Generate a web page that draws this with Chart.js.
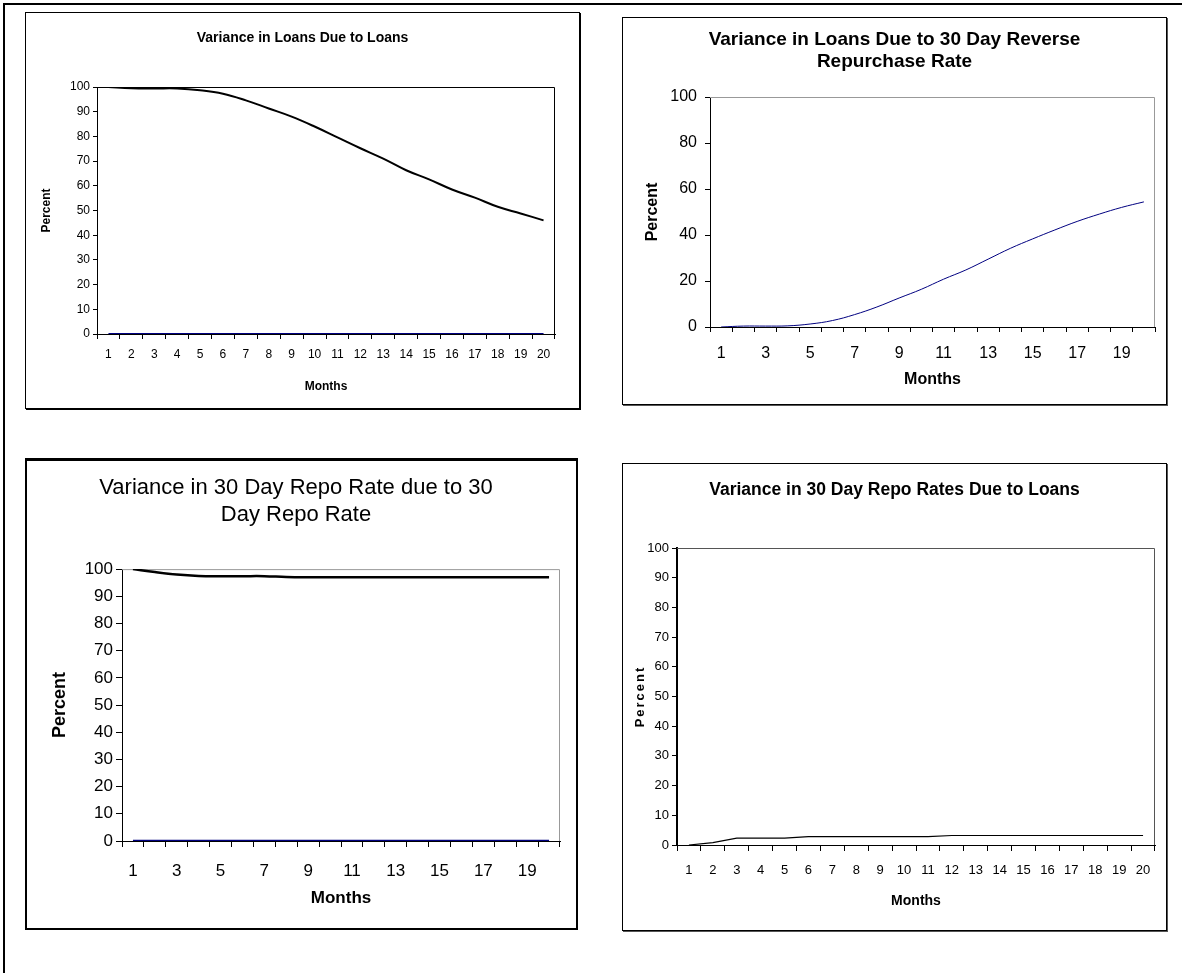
<!DOCTYPE html>
<html>
<head>
<meta charset="utf-8">
<script src="https://cdn.jsdelivr.net/npm/chart.js@4.4.0/dist/chart.umd.min.js"></script>
<style>
  body { margin: 0; background: #fff; width: 1182px; height: 973px; position: relative; overflow: hidden; }
  .frame-top { position: absolute; left: 3px; top: 3px; width: 1179px; height: 2px; background: #000; }
  .frame-left { position: absolute; left: 3px; top: 3px; width: 2px; height: 970px; background: #000; }
  .panel { position: absolute; background: #fff; border: 1px solid #000; }
  .panel canvas { position: absolute; left: 0; top: 0; }
  #p1 { left: 25px; top: 12px; width: 553px; height: 395px; box-shadow: 1px 1px 0 #000; }
  #p2 { left: 622px; top: 17px; width: 543px; height: 386px; box-shadow: 1px 1px 0 #555; }
  #p3 { left: 25px; top: 458px; width: 549px; height: 467px; border-width: 2px; border-top-width: 3px; }
  #p4 { left: 622px; top: 463px; width: 543px; height: 466px; box-shadow: 1px 1px 0 #555; }
</style>
</head>
<body>
<div class="frame-top"></div>
<div class="frame-left"></div>
<div class="panel" id="p1"><canvas id="c1" width="553" height="395"></canvas></div>
<div class="panel" id="p2"><canvas id="c2" width="543" height="386"></canvas></div>
<div class="panel" id="p3"><canvas id="c3" width="549" height="467"></canvas></div>
<div class="panel" id="p4"><canvas id="c4" width="543" height="466"></canvas></div>

<script>
// data
const months = ['1','2','3','4','5','6','7','8','9','10','11','12','13','14','15','16','17','18','19','20'];
const oddMonths = ['1','3','5','7','9','11','13','15','17','19'];

const loansDueLoans = [100, 99.5, 99.4, 99.4, 98.7, 97.3, 94.6, 91.3, 88.0, 84.0, 79.6, 75.2, 71.0, 66.3, 62.6, 58.5, 55.2, 51.5, 48.8, 46.0];
const loansDueLoansOther = [0, 0, 0, 0, 0, 0, 0, 0, 0, 0, 0, 0, 0, 0, 0, 0, 0, 0, 0, 0];

const loansDueReverseRepo = [0, 0.4, 0.4, 0.5, 1.3, 2.8, 5.4, 8.7, 12.6, 16.4, 20.8, 24.8, 29.5, 34.2, 38.3, 42.2, 45.9, 49.1, 52.0, 54.4];

const repoDueRepo = [100, 98.9, 98.0, 97.5, 97.4, 97.4, 97.4, 97.1, 97.0, 97.0, 97.0, 97.0, 97.0, 97.0, 97.0, 97.0, 97.0, 97.0, 97.0, 97.0];
const repoDueRepoOther = [0, 0, 0, 0, 0, 0, 0, 0, 0, 0, 0, 0, 0, 0, 0, 0, 0, 0, 0, 0];

const repoDueLoans = [0, 0.8, 2.3, 2.3, 2.3, 2.8, 2.8, 2.8, 2.8, 2.8, 2.8, 3.2, 3.2, 3.2, 3.2, 3.2, 3.2, 3.2, 3.2, 3.2];

const ARIAL = "'Liberation Sans', Arial, sans-serif";

// top and right edge of the plot area
const plotFrame = {
  id: 'plotFrame',
  beforeDatasetsDraw(chart, args, opts) {
    const { ctx, chartArea: a } = chart;
    ctx.save();
    ctx.strokeStyle = opts.color;
    ctx.lineWidth = 1;
    ctx.beginPath();
    ctx.moveTo(a.left, a.top + 0.5);
    ctx.lineTo(a.right - 0.5, a.top + 0.5);
    ctx.lineTo(a.right - 0.5, a.bottom);
    ctx.stroke();
    ctx.restore();
  }
};

// letter-spaced axis title (only used on the last panel)
const spacedTitle = {
  id: 'spacedTitle',
  afterDraw(chart, args, opts) {
    if (!opts.text) return;
    const { ctx, chartArea: a } = chart;
    ctx.save();
    ctx.translate(opts.x, (a.top + a.bottom) / 2);
    ctx.rotate(-Math.PI / 2);
    ctx.font = opts.font;
    ctx.letterSpacing = opts.spacing;
    ctx.fillStyle = '#000';
    ctx.textAlign = 'center';
    ctx.textBaseline = 'middle';
    ctx.fillText(opts.text, 0, 0);
    ctx.restore();
  }
};

function makePanel(id, s) {
  new Chart(document.getElementById(id), {
    type: 'line',
    data: { labels: months, datasets: s.datasets },
    plugins: [plotFrame, spacedTitle],
    options: {
      responsive: false,
      animation: false,
      layout: { padding: { left: 0, right: s.padRight, top: 0, bottom: 0 } },
      elements: { point: { radius: 0 } },
      plugins: {
        legend: { display: false },
        tooltip: { enabled: false },
        plotFrame: { color: s.frameColor },
        spacedTitle: s.spaced || {},
        title: {
          display: true,
          text: s.title,
          color: '#000',
          font: { family: ARIAL, size: s.titleSize, weight: s.titleWeight, lineHeight: s.titleLH },
          padding: { top: s.titleTop, bottom: s.titleBottom }
        }
      },
      scales: {
        x: {
          type: 'category',
          offset: true,
          afterFit(scale) { scale.height = s.xHeight; },
          grid: { offset: true, drawOnChartArea: false, drawTicks: true, tickLength: s.xTick, color: '#000' },
          border: { display: true, color: '#000', width: 1 },
          ticks: {
            autoSkip: false, maxRotation: 0, color: '#000', padding: s.xPad,
            font: { family: ARIAL, size: s.xSize },
            callback(v, i) { const l = months[i]; return s.shown.includes(l) ? l : ''; }
          },
          title: {
            display: true, text: 'Months', color: '#000',
            font: { family: ARIAL, size: s.xTitleSize, weight: 'bold' },
            padding: { top: 0, bottom: s.xTitleBottom }
          }
        },
        y: {
          min: 0, max: 100,
          afterFit(scale) { scale.width = s.yWidth; },
          grid: { drawOnChartArea: false, drawTicks: true, tickLength: s.yTick, color: '#000' },
          border: { display: true, color: '#000', width: s.yBorder || 1 },
          ticks: { stepSize: s.yStep, color: '#000', padding: s.yPad, font: { family: ARIAL, size: s.ySize } },
          title: {
            display: !s.spaced, text: 'Percent', color: '#000',
            font: { family: ARIAL, size: s.yTitleSize, weight: 'bold' },
            padding: { top: s.yTitleTop, bottom: 0 }
          }
        },
        // empty right-hand strip, so the title stays centred on the whole panel
        gap: {
          type: 'linear', position: 'right', display: true,
          afterFit(scale) { scale.width = s.gapRight; },
          grid: { display: false }, border: { display: false }, ticks: { display: false }
        }
      }
    }
  });
}

makePanel('c1', {
  title: 'Variance in Loans Due to Loans', titleSize: 14, titleWeight: 'bold', titleLH: 1.2,
  titleTop: 16.6, titleBottom: 40.6, padRight: 0, gapRight: 24, frameColor: '#000',
  xSize: 12, ySize: 12, xTitleSize: 12, yTitleSize: 12,
  xHeight: 74, xTick: 5, xPad: 8, xTitleBottom: 13.8,
  yWidth: 71, yTick: 4, yPad: 3, yStep: 10, yTitleTop: 13.8,
  shown: months,
  datasets: [
    { data: loansDueLoansOther, borderColor: '#000080', borderWidth: 2, tension: 0 },
    { data: loansDueLoans, borderColor: '#000', borderWidth: 2, tension: 0.4 }
  ]
});

makePanel('c2', {
  title: ['Variance in Loans Due to 30 Day Reverse', 'Repurchase Rate'], titleSize: 19, titleWeight: 'bold', titleLH: 1.15,
  titleTop: 11, titleBottom: 24.3, padRight: 0, gapRight: 11, frameColor: '#999',
  xSize: 16, ySize: 16, xTitleSize: 16, yTitleSize: 16,
  xHeight: 77, xTick: 5, xPad: 12, xTitleBottom: 14.4,
  yWidth: 87, yTick: 5, yPad: 8, yStep: 20, yTitleTop: 20.4,
  shown: oddMonths,
  datasets: [
    { data: loansDueReverseRepo, borderColor: '#000080', borderWidth: 1, tension: 0.4 }
  ]
});

makePanel('c3', {
  title: ['Variance in 30 Day Repo Rate due to 30', 'Day Repo Rate'], titleSize: 22, titleWeight: 'normal', titleLH: 1.23,
  titleTop: 13.5, titleBottom: 40.5, padRight: 11, gapRight: 5, frameColor: '#999',
  xSize: 17, ySize: 17, xTitleSize: 17, yTitleSize: 18,
  xHeight: 87, xTick: 6, xPad: 14.5, xTitleBottom: 19.8,
  yWidth: 95, yTick: 6, yPad: 3, yStep: 10, yTitleTop: 22.2,
  shown: oddMonths,
  datasets: [
    { data: repoDueRepoOther, borderColor: '#000080', borderWidth: 2.5, tension: 0 },
    { data: repoDueRepo, borderColor: '#000', borderWidth: 2.5, tension: 0.4 }
  ]
});

makePanel('c4', {
  title: 'Variance in 30 Day Repo Rates Due to Loans', titleSize: 17.5, titleWeight: 'bold', titleLH: 1.2,
  titleTop: 15.5, titleBottom: 47.5, padRight: 0, gapRight: 11, frameColor: '#555',
  xSize: 13, ySize: 13, xTitleSize: 14, yTitleSize: 14,
  xHeight: 85, xTick: 6, xPad: 12, xTitleBottom: 20,
  yWidth: 54, yTick: 5, yPad: 3, yStep: 10, yTitleTop: 10, yBorder: 2,
  spaced: { text: 'Percent', x: 17, font: "bold 13px 'Liberation Sans', Arial, sans-serif", spacing: '2px' },
  shown: months,
  datasets: [
    { data: repoDueLoans, borderColor: '#000', borderWidth: 1.2, tension: 0 }
  ]
});
</script>
</body>
</html>
